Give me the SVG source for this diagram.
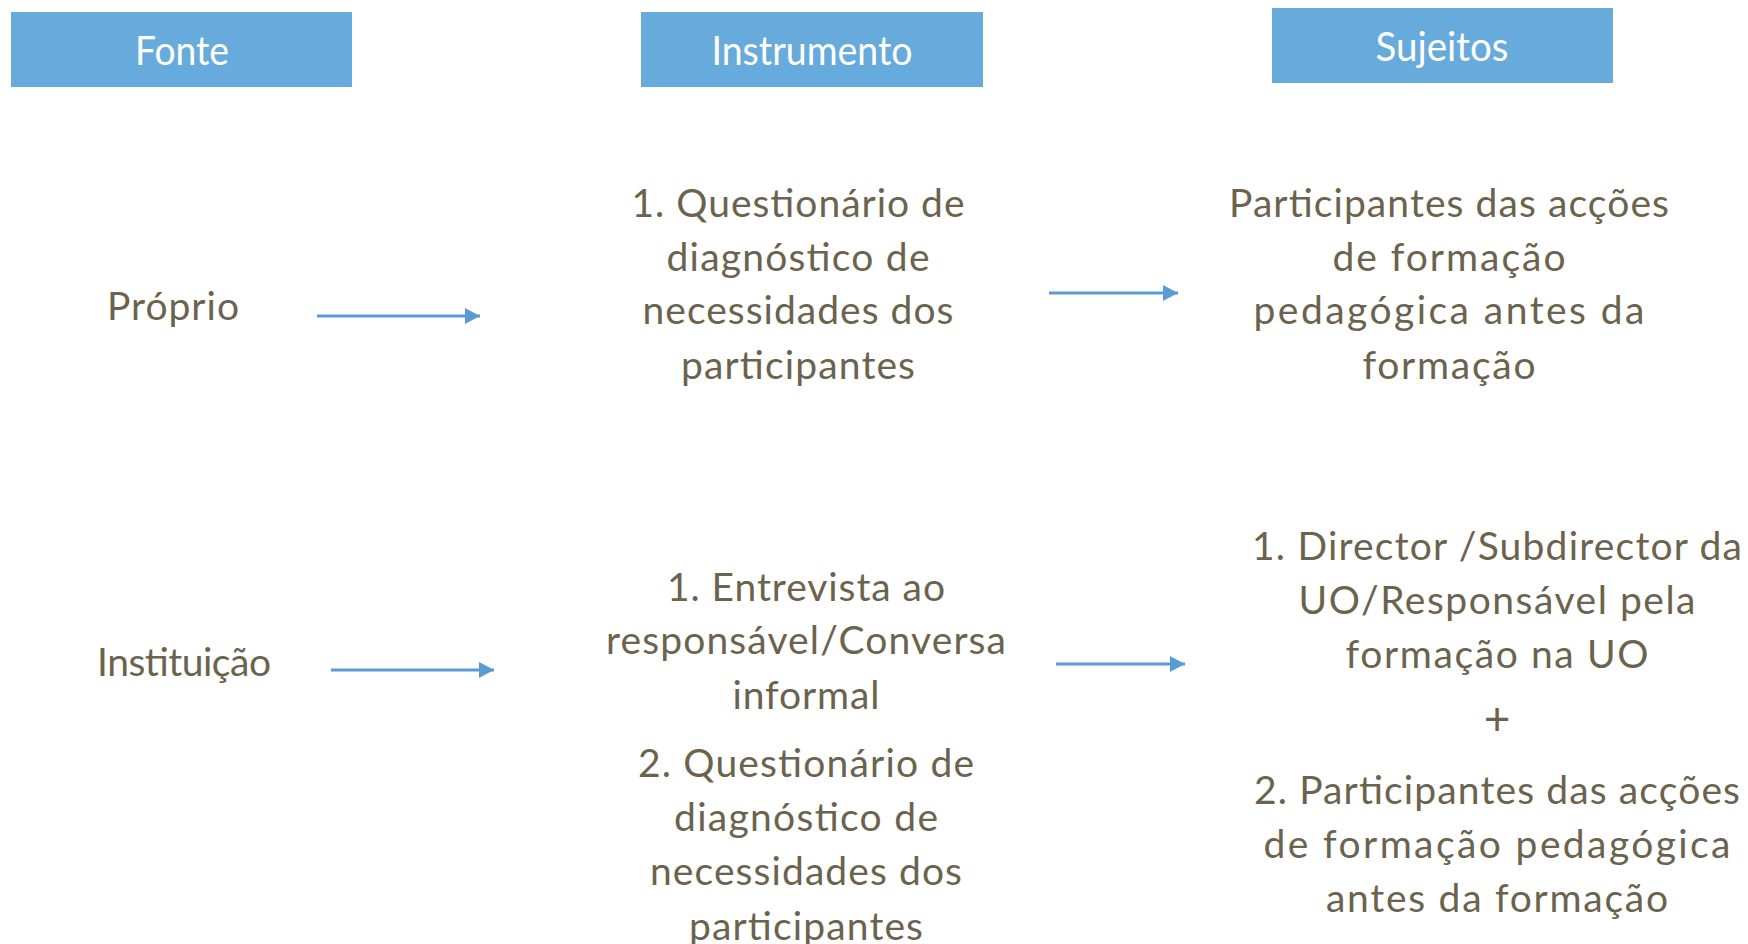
<svg xmlns="http://www.w3.org/2000/svg" width="1748" height="944" viewBox="0 0 1748 944">
<style>
.hdr{fill:#67abdc;}
.ht{font-family:Lato,"Liberation Sans",sans-serif;font-size:41px;fill:#ffffff;text-anchor:middle;}
.t{font-family:Lato,"Liberation Sans",sans-serif;font-size:39px;fill:#6b634d;text-anchor:middle;}
.plus{font-family:Lato,"Liberation Sans",sans-serif;font-size:46px;fill:#6b634d;text-anchor:middle;}
.c{stroke:#5b9bd5;stroke-width:3;fill:none;marker-end:url(#ah);}
</style>
<defs>
<marker id="ah" markerUnits="userSpaceOnUse" markerWidth="16" markerHeight="16" refX="15" refY="8" orient="auto">
<path d="M0,0 L15,8 L0,16 Z" fill="#5b9bd5"/>
</marker>
</defs>
<rect width="1748" height="944" fill="#ffffff"/>
<g id="hdr-fonte"><rect class="hdr" x="11" y="12" width="341" height="75"/><text class="ht" x="182" y="65" textLength="94" lengthAdjust="spacingAndGlyphs">Fonte</text></g>
<g id="hdr-instrumento"><rect class="hdr" x="641" y="12" width="342" height="75"/><text class="ht" x="812" y="65" textLength="201" lengthAdjust="spacingAndGlyphs">Instrumento</text></g>
<g id="hdr-sujeitos"><rect class="hdr" x="1272" y="8" width="341" height="75"/><text class="ht" x="1442" y="61" textLength="133" lengthAdjust="spacingAndGlyphs">Sujeitos</text></g>

<g id="proprio"><text class="t" x="173" y="320" textLength="132">Próprio</text></g>
<g id="instituicao"><text class="t" x="184" y="676" textLength="174">Instituição</text></g>

<g id="instr1">
<text class="t" x="798" y="217" textLength="333">1. Questionário de</text>
<text class="t" x="798" y="271" textLength="263">diagnóstico de</text>
<text class="t" x="798" y="324" textLength="311">necessidades dos</text>
<text class="t" x="798" y="379" textLength="234">participantes</text>
</g>
<g id="suj1">
<text class="t" x="1449" y="217" textLength="440">Participantes das acções</text>
<text class="t" x="1449" y="271" textLength="233">de formação</text>
<text class="t" x="1449" y="324" textLength="391">pedagógica antes da</text>
<text class="t" x="1449" y="379" textLength="173">formação</text>
</g>
<g id="instr2">
<text class="t" x="806" y="601" textLength="278">1. Entrevista ao</text>
<text class="t" x="806" y="654" textLength="400">responsável/Conversa</text>
<text class="t" x="806" y="709" textLength="147">informal</text>
<text class="t" x="806" y="777" textLength="336">2. Questionário de</text>
<text class="t" x="806" y="831" textLength="264">diagnóstico de</text>
<text class="t" x="806" y="885" textLength="312">necessidades dos</text>
<text class="t" x="806" y="940" textLength="234">participantes</text>
</g>
<g id="suj2">
<text class="t" x="1497" y="560" textLength="490">1. Director /Subdirector da</text>
<text class="t" x="1497" y="614" textLength="397">UO/Responsável pela</text>
<text class="t" x="1497" y="668" textLength="303">formação na UO</text>
<text class="plus" x="1497" y="735">+</text>
<text class="t" x="1497" y="804" textLength="486">2. Participantes das acções</text>
<text class="t" x="1497" y="858" textLength="467">de formação pedagógica</text>
<text class="t" x="1497" y="912" textLength="342">antes da formação</text>
</g>

<g id="connectors">
<line class="c" x1="317" y1="316" x2="480" y2="316"/>
<line class="c" x1="1049" y1="293" x2="1178" y2="293"/>
<line class="c" x1="331" y1="670" x2="494" y2="670"/>
<line class="c" x1="1056" y1="664" x2="1185" y2="664"/>
</g>
</svg>
